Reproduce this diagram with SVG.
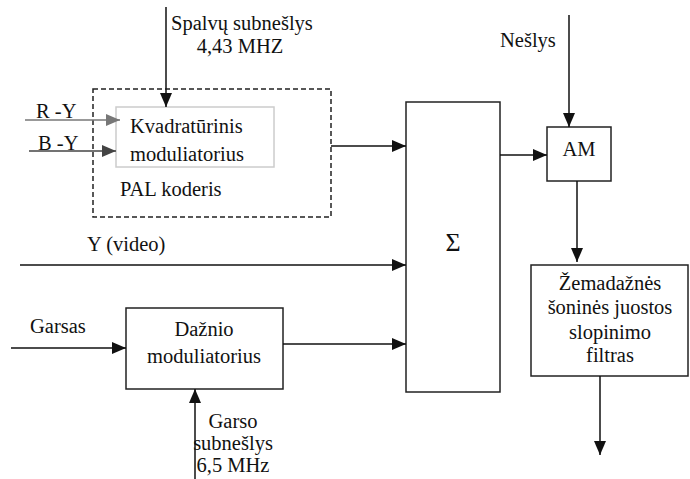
<svg xmlns="http://www.w3.org/2000/svg" width="690" height="479" viewBox="0 0 690 479">
<style>
text{font-family:'Liberation Serif','Times New Roman','DejaVu Serif',serif;font-size:20.5px;fill:#111}
.c{text-anchor:middle}
.box{fill:#fff;stroke:#222;stroke-width:1.5}
.ln{stroke:#111;stroke-width:1.5;fill:none}
</style>
<defs>
<marker id="ah" markerWidth="14" markerHeight="12" refX="14" refY="6" orient="auto" markerUnits="userSpaceOnUse"><path d="M0,0 L14,6 L0,12 z" fill="#111"/></marker>
<marker id="ahg" markerWidth="14" markerHeight="12" refX="14" refY="6" orient="auto" markerUnits="userSpaceOnUse"><path d="M0,0 L14,6 L0,12 z" fill="#777"/></marker>
<marker id="ahd" markerWidth="14" markerHeight="12" refX="14" refY="6" orient="auto" markerUnits="userSpaceOnUse"><path d="M0,0 L14,6 L0,12 z" fill="#444"/></marker>
</defs>
<g id="pal">
<rect x="93" y="89" width="238" height="128" fill="none" stroke="#222" stroke-width="1.5" stroke-dasharray="5,3"/>
<text x="120" y="196">PAL koderis</text>
</g>
<g id="kvad">
<rect x="116" y="107" width="158" height="60" fill="#fff" stroke="#ccc" stroke-width="1.5"/>
<text x="130" y="133">Kvadratūrinis</text>
<text x="130" y="161">moduliatorius</text>
</g>
<g id="sigma">
<rect class="box" x="406" y="102" width="94" height="290"/>
<text class="c" x="453" y="251" style="font-size:26px">Σ</text>
</g>
<g id="am">
<rect class="box" x="547" y="127" width="64" height="54"/>
<text class="c" x="579" y="156">AM</text>
</g>
<g id="filtras">
<rect class="box" x="531" y="265" width="157" height="111"/>
<text class="c" x="610" y="290">Žemadažnės</text>
<text class="c" x="610" y="314">šoninės juostos</text>
<text class="c" x="610" y="339">slopinimo</text>
<text class="c" x="610" y="362">filtras</text>
</g>
<g id="daznio">
<rect class="box" x="126" y="308" width="157" height="81"/>
<text class="c" x="204" y="336">Dažnio</text>
<text class="c" x="204" y="363">moduliatorius</text>
</g>
<g id="labels">
<text x="171" y="30">Spalvų subnešlys</text>
<text class="c" x="240" y="53">4,43 MHZ</text>
<text x="36" y="118">R -Y</text>
<text x="38" y="150">B -Y</text>
<text x="87" y="251">Y (video)</text>
<text x="30" y="333">Garsas</text>
<text class="c" x="233" y="428">Garso</text>
<text class="c" x="233" y="450">subnešlys</text>
<text class="c" x="233" y="472">6,5 MHz</text>
<text x="500" y="47">Nešlys</text>
</g>
<g id="connectors">
<line class="ln" x1="166" y1="7" x2="166" y2="107" marker-end="url(#ah)"/>
<line x1="25" y1="120" x2="120" y2="120" stroke="#777" stroke-width="1.5" marker-end="url(#ahg)"/>
<line x1="29" y1="151" x2="116" y2="151" stroke="#444" stroke-width="1.5" marker-end="url(#ahd)"/>
<line class="ln" x1="331" y1="146" x2="406" y2="146" marker-end="url(#ah)"/>
<line class="ln" x1="500" y1="155" x2="547" y2="155" marker-end="url(#ah)"/>
<line class="ln" x1="569" y1="15" x2="569" y2="127" marker-end="url(#ah)"/>
<line class="ln" x1="577" y1="181" x2="577" y2="262" marker-end="url(#ah)"/>
<line class="ln" x1="600" y1="376" x2="600" y2="455" marker-end="url(#ah)"/>
<line class="ln" x1="20" y1="265" x2="406" y2="265" marker-end="url(#ah)"/>
<line class="ln" x1="11" y1="348" x2="126" y2="348" marker-end="url(#ah)"/>
<line class="ln" x1="283" y1="344" x2="406" y2="344" marker-end="url(#ah)"/>
<line class="ln" x1="195" y1="479" x2="195" y2="389" marker-end="url(#ah)"/>
</g>
</svg>
